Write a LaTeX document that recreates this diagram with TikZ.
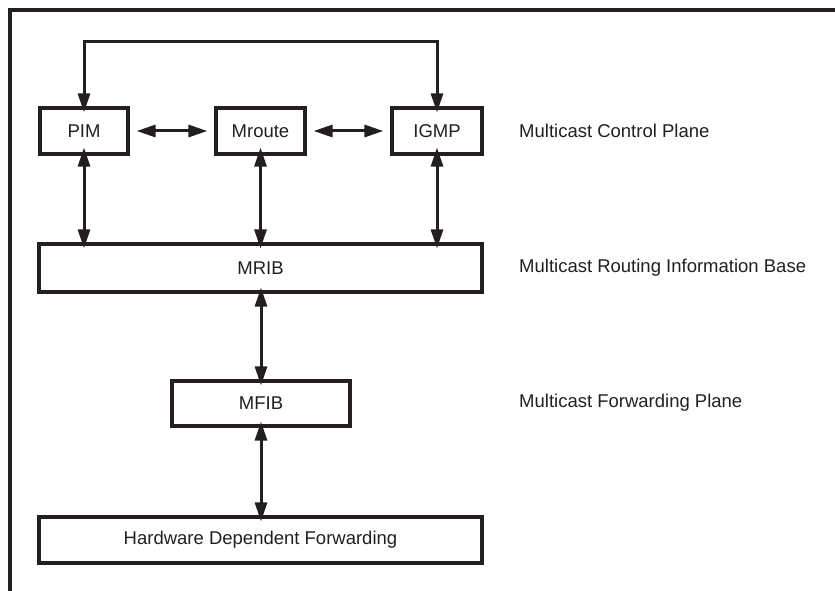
\documentclass[tikz,border=0pt]{standalone}
\usepackage{fontspec}
\setmainfont{Liberation Sans}
\usetikzlibrary{arrows.meta}
\definecolor{ink}{HTML}{231F20}
\begin{document}
\begin{tikzpicture}[x=1pt,y=-1pt,
  box/.style={draw=ink,line width=3.2pt,inner sep=0pt,font=\fontsize{18.5}{22}\selectfont,text=ink},
  lbl/.style={anchor=west,inner sep=0pt,font=\fontsize{18.5}{22}\selectfont,text=ink},
  conn/.style={draw=ink,line width=3pt,{Triangle[length=19pt,width=12pt]}-{Triangle[length=19pt,width=12pt]}},
  oneway/.style={draw=ink,line width=3pt,-{Triangle[length=19pt,width=12pt]}}]
\useasboundingbox (0,0) rectangle (835,591);
% frame
\draw[ink,line width=3.8pt] (10,591) -- (10,10) -- (835,10);
% boxes
\node[box,minimum width=88pt,minimum height=46pt] (pim) at (84,131) {PIM};
\node[box,minimum width=89pt,minimum height=46pt] (mroute) at (260.5,131) {Mroute};
\node[box,minimum width=90pt,minimum height=46pt] (igmp) at (437,131) {IGMP};
\node[box,minimum width=443pt,minimum height=48pt] (mrib) at (260.5,268) {MRIB};
\node[box,minimum width=178pt,minimum height=45pt] (mfib) at (261,403.5) {MFIB};
\node[box,minimum width=443pt,minimum height=46pt] (hw) at (260.5,540) {Hardware Dependent Forwarding};
% labels
\node[lbl] (l1) at (519,131) {Multicast Control Plane};
\node[lbl] (l2) at (519,268) {Multicast Routing Information Base};
\node[lbl] (l3) at (519,403) {Multicast Forwarding Plane};
% top loop
\coordinate (tl) at (84,42);
\coordinate (tr) at (437,42);
\draw[oneway] (tl) -- ([yshift=-6pt]pim.north);
\draw[oneway] (tr) -- ([yshift=-6pt]igmp.north);
\draw[ink,line width=3pt,line cap=rect] (tl) -- (tr);
% horizontal
\draw[conn] ([xshift=7pt]pim.east) -- ([xshift=-7pt]mroute.west);
\draw[conn] ([xshift=7pt]mroute.east) -- ([xshift=-7pt]igmp.west);
% verticals
\draw[conn] ([yshift=8pt]pim.south) -- ([yshift=-6pt]pim.south |- mrib.north);
\draw[conn] ([yshift=8pt]mroute.south) -- ([yshift=-6pt]mroute.south |- mrib.north);
\draw[conn] ([yshift=8pt]igmp.south) -- ([yshift=-6pt]igmp.south |- mrib.north);
\draw[conn] ([yshift=6pt]mfib.north |- mrib.south) -- ([yshift=-6pt]mfib.north);
\draw[conn] ([yshift=6pt]mfib.south) -- ([yshift=-6pt]mfib.south |- hw.north);
\end{tikzpicture}
\end{document}
